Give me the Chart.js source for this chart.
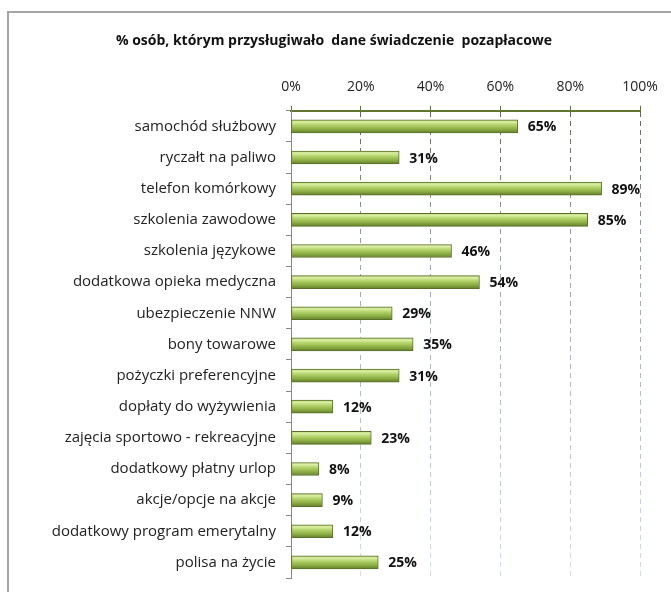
<!DOCTYPE html>
<html>
<head>
<meta charset="utf-8">
<script src="https://cdn.jsdelivr.net/npm/chart.js@4"></script>
<style>
  body { margin: 0; background: #fff; overflow: hidden; }
  #frame { position: absolute; left: 7px; top: 11px; width: 700px; height: 600px;
           border-top: 2px solid #a6a6a6; border-left: 2px solid #a6a6a6; }
  canvas { position: absolute; left: 0; top: 0; }
</style>
</head>
<body>
<div id="frame"></div>
<canvas id="myChart" width="671" height="592"></canvas>
<script>
// Data
const categories = [
    'samochód służbowy', 'ryczałt na paliwo', 'telefon komórkowy', 'szkolenia zawodowe',
    'szkolenia językowe', 'dodatkowa opieka medyczna', 'ubezpieczenie NNW', 'bony towarowe',
    'pożyczki preferencyjne', 'dopłaty do wyżywienia', 'zajęcia sportowo - rekreacyjne',
    'dodatkowy płatny urlop', 'akcje/opcje na akcje', 'dodatkowy program emerytalny', 'polisa na życie'
];
const values = [65, 31, 89, 85, 46, 54, 29, 35, 31, 12, 23, 8, 9, 12, 25];
const tickValues = [0, 20, 40, 60, 80, 100];
const title = '% osób, którym przysługiwało  dane świadczenie  pozapłacowe';

const FONT = '"Open Sans", Lato, sans-serif';

// bar gradient, one per bar, built from the bar's own pixel position
function barFill(ctx) {
    const chart = ctx.chart;
    const y = chart.scales.y;
    if (!y || ctx.dataIndex === undefined) return '#9bc34d';
    const c = y.getPixelForValue(ctx.dataIndex);
    if (!isFinite(c)) return '#9bc34d';
    const g = chart.ctx.createLinearGradient(0, c - 7, 0, c + 7);
    g.addColorStop(0, '#a9c862');
    g.addColorStop(0.18, '#dcefa6');
    g.addColorStop(0.4, '#b3d46a');
    g.addColorStop(0.7, '#8cae45');
    g.addColorStop(1, '#5d7826');
    return g;
}

// grid colour fades from olive at the top to pale blue lower down
function gridColor(ctx) {
    const chart = ctx.chart;
    const area = chart.chartArea;
    if (!area || !isFinite(area.top) || !isFinite(area.bottom) || area.bottom <= area.top) return '#a0aab4';
    const g = chart.ctx.createLinearGradient(0, area.top, 0, area.bottom);
    g.addColorStop(0, '#5e6a4a');
    g.addColorStop(0.3, '#98a4b4');
    g.addColorStop(1, '#d2dcf0');
    return g;
}

// value labels after each bar
const valueLabels = {
    id: 'valueLabels',
    afterDatasetsDraw(chart) {
        const ctx = chart.ctx;
        const meta = chart.getDatasetMeta(0);
        ctx.save();
        ctx.font = 'bold 14px ' + FONT;
        ctx.fillStyle = '#111';
        ctx.textAlign = 'left';
        ctx.textBaseline = 'middle';
        meta.data.forEach(function(bar, i) {
            ctx.fillText(values[i] + '%', bar.x + 10, bar.y + 1);
        });
        ctx.restore();
    }
};

const ctx = document.getElementById('myChart').getContext('2d');
const myChart = new Chart(ctx, {
    type: 'bar',
    data: {
        labels: categories,
        datasets: [{
            data: values,
            backgroundColor: barFill,
            borderColor: '#5a7028',
            borderWidth: 1,
            borderSkipped: false,
            barThickness: 13
        }]
    },
    options: {
        indexAxis: 'y',
        responsive: false,
        animation: false,
        layout: { padding: { left: 28, right: 31, top: 0, bottom: 14 } },
        plugins: {
            legend: { display: false },
            tooltip: { enabled: false },
            title: {
                display: true,
                text: title,
                color: '#111',
                font: { family: FONT, size: 14, weight: 'bold' },
                padding: { top: 33, bottom: 17 }
            }
        },
        scales: {
            x: {
                position: 'top',
                min: 0,
                max: 100,
                afterBuildTicks(axis) {
                    axis.ticks = tickValues.map(v => ({ value: v }));
                },
                afterFit(axis) {
                    axis.height = 44;
                },
                ticks: {
                    callback: v => v + '%',
                    color: '#222',
                    font: { family: FONT, size: 14 },
                    padding: 10
                },
                grid: {
                    color: gridColor,
                    tickColor: '#5f7530',
                    tickLength: 5,
                    lineWidth: 1
                },
                border: { color: '#5f7530', width: 2, dash: [5, 4] }
            },
            y: {
                afterFit(axis) {
                    axis.width = 263;
                    axis.paddingTop = 0;
                    axis.paddingBottom = 0;
                },
                ticks: {
                    color: '#222',
                    font: { family: FONT, size: 15 },
                    padding: 10
                },
                grid: {
                    drawOnChartArea: false,
                    tickLength: 5,
                    color: '#888',
                    offset: true
                },
                border: { color: '#888', width: 1 }
            }
        }
    },
    plugins: [valueLabels]
});
</script>
</body>
</html>
